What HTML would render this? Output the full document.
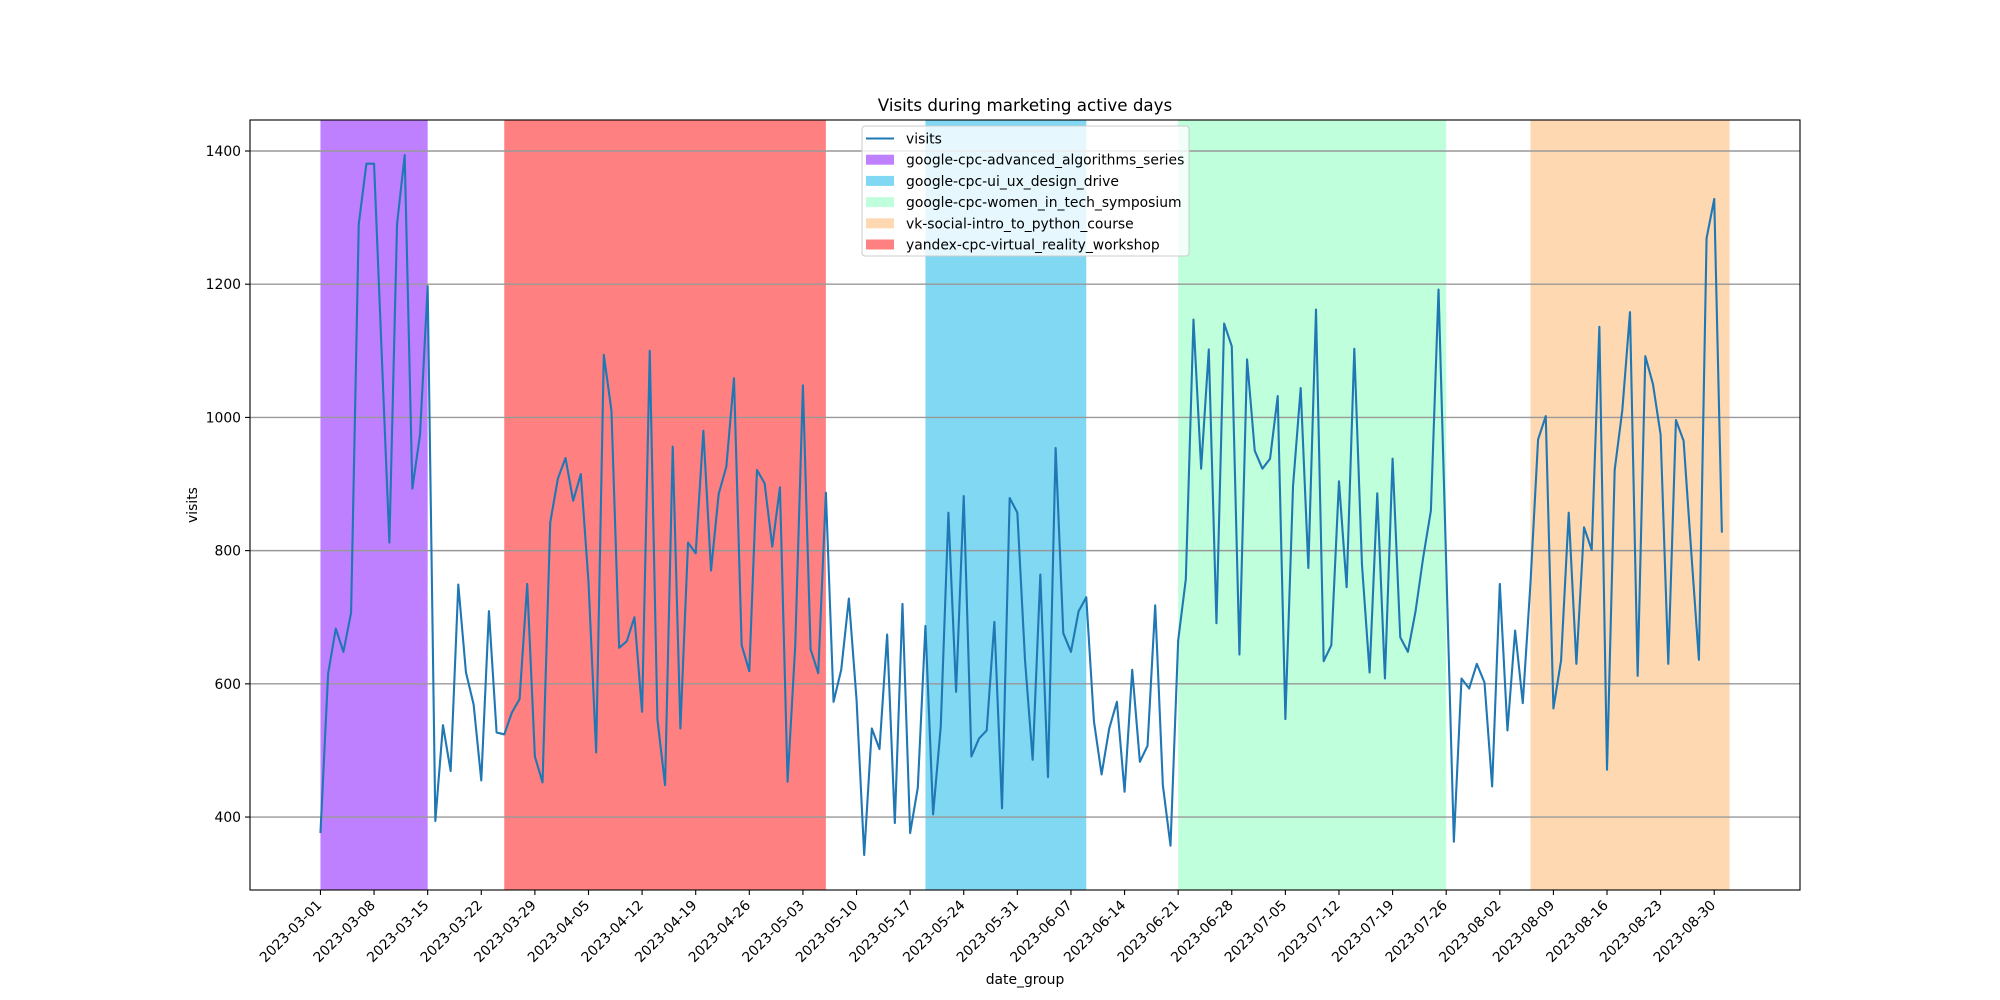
<!DOCTYPE html>
<html><head><meta charset="utf-8"><style>
html,body{margin:0;padding:0;background:#fff;}
svg{display:block;font-family:"DejaVu Sans","Liberation Sans",sans-serif;}
</style></head><body>
<svg id="chart" width="2000" height="1000" viewBox="0 0 2000 1000"></svg>
<script>
const visits = [376,615,683,648,707,1290,1381,1381,1095,812,1290,1394,893,974,1197,394,538,469,749,617,569,455,709,
527,524,557,577,750,491,452,842,908,939,875,915,753,497,1094,1010,654,664,700,558,1100,547,448,
956,533,812,796,980,770,885,926,1059,658,619,921,901,806,895,453,658,1048,652,616,887,573,
621,728,577,343,533,502,674,391,720,376,444,687,404,536,857,588,882,491,518,530,693,413,879,
857,636,486,764,460,954,676,648,709,730,544,464,533,573,438,621,483,507,718,448,357,665,757,
1147,923,1102,691,1141,1107,644,1087,950,923,938,1032,547,897,1044,774,1162,634,658,904,745,1103,779,
617,886,608,938,670,648,709,790,860,1192,780,363,608,593,630,602,446,750,530,680,571,750,967,
1002,563,635,857,630,835,801,1136,471,921,1011,1158,612,1092,1050,974,630,996,965,798,636,1269,1328,827];
const startDate = "2023-03-01";
const campaigns = ["google-cpc-advanced_algorithms_series","google-cpc-ui_ux_design_drive","google-cpc-women_in_tech_symposium","vk-social-intro_to_python_course","yandex-cpc-virtual_reality_workshop"];
const campaignStart = [0,79,112,158,24];
const campaignEnd = [14,100,147,184,66];
const campaignColors = ["#bf80ff","#80d8f2","#bfffdb","#fed8b1","#ff8080"];
const yTicks = [400,600,800,1000,1200,1400];

const svg = document.getElementById('chart');
const NS = 'http://www.w3.org/2000/svg';
const L=250,R=1800,T=120,B=890;
const n = visits.length;
const dmax = Math.max(n-1, ...campaignEnd);
const xmin = -0.05*dmax, xmax = dmax*1.05;
const vmin = Math.min(...visits), vmax = Math.max(...visits), vr = vmax-vmin;
const ymin = vmin-0.05*vr, ymax = vmax+0.05*vr;
const X = d => L + (d - xmin)/(xmax - xmin)*(R-L);
const Y = v => B - (v - ymin)/(ymax - ymin)*(B-T);
function mk(tag, attrs, parent){const e=document.createElementNS(NS,tag);for(const k in attrs)e.setAttribute(k,attrs[k]);(parent||svg).appendChild(e);return e;}

const clip = mk('clipPath',{id:'pc'}); mk('rect',{x:L,y:T,width:R-L,height:B-T},clip);
const g = mk('g',{'clip-path':'url(#pc)'});



campaigns.forEach((c,i)=>{
  const r = mk('rect',{x:X(campaignStart[i]),y:T,width:X(campaignEnd[i])-X(campaignStart[i]),height:B-T,fill:campaignColors[i]},g);
  
  
});
yTicks.forEach(v=>{
  const l = mk('line',{x1:L,x2:R,y1:Y(v),y2:Y(v),stroke:'#999',"stroke-width":1.4},g);
  
  
});
const pts = visits.map((v,i)=>X(i).toFixed(2)+','+Y(v).toFixed(2)).join(' ');
const line = mk('polyline',{points:pts,fill:'none',stroke:'#1f77b4',"stroke-width":2.1,"stroke-linejoin":'round'},g);



const frame = mk('rect',{x:L,y:T,width:R-L,height:B-T,fill:'none',stroke:'#000',"stroke-width":1.1});



yTicks.forEach(v=>{
  mk('line',{x1:L-5,x2:L,y1:Y(v),y2:Y(v),stroke:'#000',"stroke-width":1.1});
  const t = mk('text',{x:L-9,y:Y(v)+5,"text-anchor":'end',"font-size":13.9,fill:'#000'});
  t.textContent=v;
  
  
});
const sd = new Date(startDate+"T00:00:00Z");
for(let d=0; d<n; d+=7){
  const x=X(d);
  mk('line',{x1:x,x2:x,y1:B,y2:B+5,stroke:'#000',"stroke-width":1.1});
  const dt = new Date(sd.getTime()+d*86400000);
  const lbl = dt.toISOString().slice(0,10);
  const t = mk('text',{x:x+2,y:B+16,"text-anchor":'end',"font-size":13.9,fill:'#000',transform:`rotate(-45 ${x+2} ${B+16})`});
  t.textContent=lbl;
  
  
}
const title = mk('text',{x:(L+R)/2,y:111,"text-anchor":'middle',"font-size":16.7,fill:'#000'});
title.textContent='Visits during marketing active days';


const xl = mk('text',{x:(L+R)/2,y:984,"text-anchor":'middle',"font-size":13.9,fill:'#000'});
xl.textContent='date_group';


const yl = mk('text',{x:197,y:(T+B)/2,"text-anchor":'middle',"font-size":13.9,fill:'#000',transform:`rotate(-90 197 ${(T+B)/2})`});
yl.textContent='visits';



const lg = mk('g',{});


mk('rect',{x:862,y:126,width:327,height:130,rx:3,fill:'rgba(255,255,255,0.8)',stroke:'#ccc',"stroke-width":1},lg);
const rowY = i => 138.5 + i*21.2;
mk('line',{x1:866,x2:894,y1:rowY(0),y2:rowY(0),stroke:'#1f77b4',"stroke-width":2.1},lg);
const t0 = mk('text',{x:906,y:rowY(0)+5,"font-size":13.9,fill:'#000'},lg);
t0.textContent='visits';


campaigns.forEach((c,i)=>{
  mk('rect',{x:866,y:rowY(i+1)-5,width:28,height:10,fill:campaignColors[i]},lg);
  const t = mk('text',{x:906,y:rowY(i+1)+5,"font-size":13.9,fill:'#000'},lg);
  t.textContent=c;
  
  
});
</script>
</body></html>
